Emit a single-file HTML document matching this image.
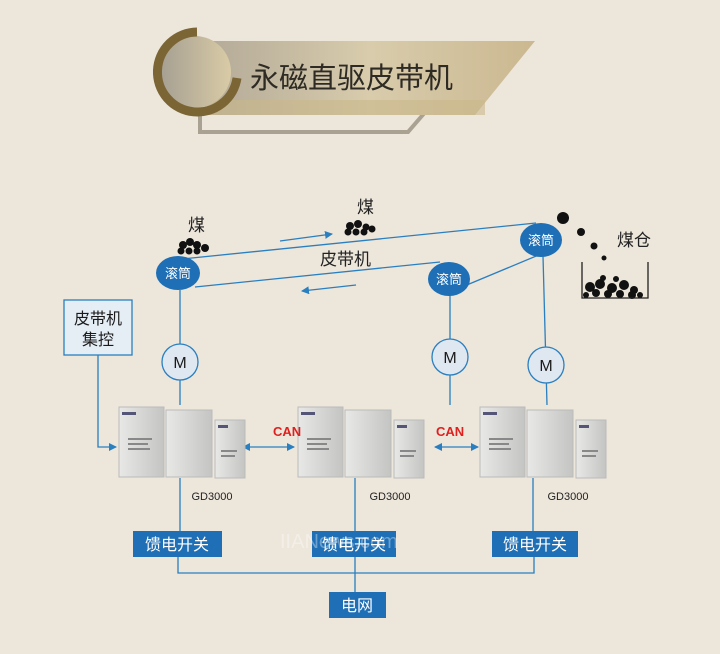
<!DOCTYPE html>
<html><head><meta charset="utf-8"><style>
body{margin:0;background:#ede6db;}
svg{display:block}
text{font-family:"Liberation Sans","Noto Sans CJK SC",sans-serif;}
</style></head><body>
<svg width="720" height="654" viewBox="0 0 720 654" xmlns="http://www.w3.org/2000/svg">
<defs>
<linearGradient id="bg" x1="0" x2="1"><stop offset="0" stop-color="#b3aa98"/><stop offset="0.5" stop-color="#d8ccac"/><stop offset="1" stop-color="#cbb890"/></linearGradient>
<linearGradient id="cg" x1="0" x2="1"><stop offset="0" stop-color="#a59f92"/><stop offset="1" stop-color="#d9cba6"/></linearGradient>
<linearGradient id="dg" x1="0" x2="1"><stop offset="0" stop-color="#e8e8e6"/><stop offset="1" stop-color="#c4c4c2"/></linearGradient>
<marker id="ar" markerWidth="8" markerHeight="8" refX="7" refY="4" orient="auto" markerUnits="userSpaceOnUse"><path d="M0,0 L8,4 L0,8z" fill="#2a7fc0"/></marker>
<marker id="al" markerWidth="8" markerHeight="8" refX="1" refY="4" orient="auto" markerUnits="userSpaceOnUse"><path d="M8,0 L0,4 L8,8z" fill="#2a7fc0"/></marker>
</defs>
<rect width="720" height="654" fill="#ede6db"/>
<!-- title -->
<polyline points="200,95 200,132 408,132 440,95" fill="none" stroke="#a9a292" stroke-width="4"/>
<polygon points="205,41 535,41 475,115 205,115" fill="url(#bg)"/>
<rect x="205" y="100" width="280" height="15" fill="#c9b78b" opacity="0.6"/>
<circle cx="195" cy="72" r="36" fill="url(#cg)"/>
<path d="M197,32 A40,40 0 1 0 237,78" fill="none" stroke="#7b6535" stroke-width="9"/>
<text x="250" y="88" font-size="29" fill="#2e2a24">永磁直驱皮带机</text>
<!-- belts -->
<g stroke="#2a7fc0" stroke-width="1.3" fill="none">
<line x1="182" y1="259" x2="536" y2="223"/>
<line x1="195" y1="287" x2="440" y2="262"/>
<line x1="462" y1="287" x2="541" y2="254"/>
<line x1="280" y1="241" x2="332" y2="234" marker-end="url(#ar)"/>
<line x1="356" y1="285" x2="302" y2="291" marker-end="url(#ar)"/>
<line x1="180" y1="290" x2="180" y2="405"/>
<line x1="450" y1="294" x2="450" y2="405"/>
<line x1="543" y1="256" x2="547" y2="405"/>
<polyline points="98,355 98,447 116,447" marker-end="url(#ar)"/>
<line x1="243" y1="447" x2="294" y2="447" marker-start="url(#al)" marker-end="url(#ar)"/>
<line x1="435" y1="447" x2="478" y2="447" marker-start="url(#al)" marker-end="url(#ar)"/>
<line x1="180" y1="478" x2="180" y2="531"/>
<line x1="355" y1="478" x2="355" y2="531"/>
<line x1="533" y1="478" x2="533" y2="531"/>
<polyline points="178,557 178,573 534,573 534,557"/>
<line x1="355" y1="557" x2="355" y2="592"/>
</g>
<!-- rollers -->
<g fill="#1e6fb5"><ellipse cx="178" cy="273" rx="22" ry="17"/><ellipse cx="449" cy="279" rx="21" ry="17"/><ellipse cx="541" cy="240" rx="21" ry="17"/></g>
<g fill="#fff" font-size="13" text-anchor="middle"><text x="178" y="278">滚筒</text><text x="449" y="284">滚筒</text><text x="541" y="245">滚筒</text></g>
<!-- coal -->
<text x="188" y="231" font-size="17" fill="#222">煤</text>
<text x="357" y="213" font-size="17" fill="#222">煤</text>
<text x="617" y="246" font-size="17" fill="#222">煤仓</text>
<text x="320" y="265" font-size="17" fill="#222">皮带机</text>
<g fill="#111">
<circle cx="183" cy="245" r="4"/><circle cx="190" cy="242" r="4"/><circle cx="197" cy="245" r="4"/><circle cx="181" cy="251" r="3.5"/><circle cx="189" cy="251" r="3.5"/><circle cx="197" cy="251" r="3.5"/><circle cx="205" cy="248" r="4"/>
<circle cx="350" cy="226" r="4"/><circle cx="358" cy="224" r="4"/><circle cx="366" cy="227" r="3.5"/><circle cx="348" cy="232" r="3.5"/><circle cx="356" cy="232" r="3.5"/><circle cx="364" cy="232" r="3.5"/><circle cx="372" cy="229" r="3.5"/>
<circle cx="563" cy="218" r="6"/><circle cx="581" cy="232" r="4"/><circle cx="594" cy="246" r="3.5"/><circle cx="604" cy="258" r="2.5"/>
<circle cx="590" cy="287" r="5"/><circle cx="600" cy="284" r="5"/><circle cx="612" cy="288" r="5"/><circle cx="624" cy="285" r="5"/><circle cx="634" cy="290" r="4"/><circle cx="596" cy="293" r="4"/><circle cx="608" cy="294" r="4"/><circle cx="620" cy="294" r="4"/><circle cx="632" cy="295" r="4"/><circle cx="603" cy="278" r="3"/><circle cx="616" cy="279" r="3"/><circle cx="586" cy="295" r="3"/><circle cx="640" cy="295" r="3"/>
</g>
<polyline points="582,262 582,298 648,298 648,262" fill="none" stroke="#222" stroke-width="1.3"/>
<!-- M -->
<g fill="#dfe7f0" stroke="#2a7fc0" stroke-width="1.3"><circle cx="180" cy="362" r="18"/><circle cx="450" cy="357" r="18"/><circle cx="546" cy="365" r="18"/></g>
<g font-size="16" text-anchor="middle" fill="#1a1a1a"><text x="180" y="368">M</text><text x="450" y="363">M</text><text x="546" y="371">M</text></g>
<!-- drives -->
<g id="d">
<rect x="119" y="407" width="45" height="70" fill="url(#dg)" stroke="#bbb"/>
<rect x="166" y="410" width="46" height="67" fill="url(#dg)" stroke="#bbb"/>
<rect x="215" y="420" width="30" height="58" fill="url(#dg)" stroke="#bbb"/>
<rect x="122" y="412" width="14" height="3" fill="#557"/><rect x="218" y="425" width="10" height="3" fill="#557"/>
<g fill="#888"><rect x="128" y="438" width="24" height="2"/><rect x="128" y="443" width="20" height="2"/><rect x="128" y="448" width="22" height="2"/><rect x="221" y="450" width="16" height="2"/><rect x="221" y="455" width="14" height="2"/></g>
</g>
<use href="#d" x="179"/>
<use href="#d" x="361"/>
<text x="273" y="436" font-size="13" fill="#e0201e" font-weight="bold">CAN</text>
<text x="436" y="436" font-size="13" fill="#e0201e" font-weight="bold">CAN</text>
<g font-size="11" fill="#222" text-anchor="middle"><text x="212" y="500">GD3000</text><text x="390" y="500">GD3000</text><text x="568" y="500">GD3000</text></g>
<!-- control box -->
<rect x="64" y="300" width="68" height="55" fill="#e5edf5" stroke="#2a7fc0" stroke-width="1.3"/>
<text x="98" y="324" font-size="16" text-anchor="middle" fill="#1a1a1a">皮带机</text>
<text x="98" y="345" font-size="16" text-anchor="middle" fill="#1a1a1a">集控</text>
<!-- switches -->
<g fill="#1e6fb5"><rect x="133" y="531" width="89" height="26"/><rect x="312" y="531" width="84" height="26"/><rect x="492" y="531" width="86" height="26"/><rect x="329" y="592" width="57" height="26"/></g>
<g fill="#fff" font-size="16" text-anchor="middle"><text x="177" y="550">馈电开关</text><text x="354" y="550">馈电开关</text><text x="535" y="550">馈电开关</text><text x="357" y="611">电网</text></g>
<text x="280" y="548" font-size="20" fill="#ffffff" opacity="0.35">IIANews.com</text>
</svg>
</body></html>
